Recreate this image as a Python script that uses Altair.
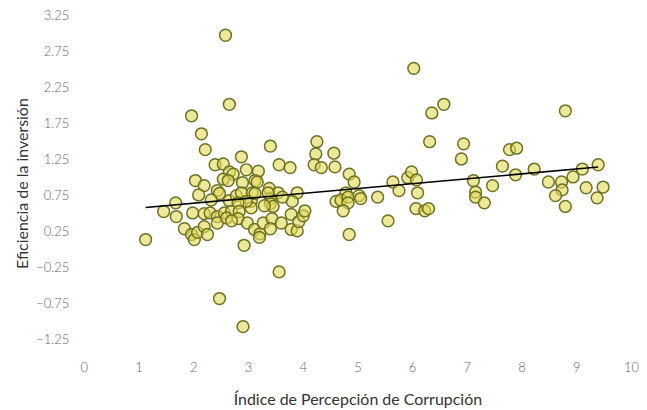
import altair as alt
import pandas as pd

# Índice de Percepción de Corrupción (x) and Eficiencia de la inversión (y)
ipc = [1.13, 1.46, 1.68, 1.69, 1.84, 1.97, 2.15, 2.22, 1.97, 2.02, 2.08, 2.20, 2.26, 1.99, 2.20, 2.31,
       2.04, 2.20, 2.10, 2.40, 2.55, 2.66, 2.73, 2.55, 2.64, 2.44, 2.48, 2.33, 2.66, 2.79, 2.44, 2.57,
       2.70, 2.44, 2.61, 2.66, 2.59, 2.88, 2.48, 2.91, 2.97, 3.19, 2.90, 3.13, 3.17, 3.39, 3.41, 3.57,
       3.77, 3.55, 3.90, 3.81, 3.63, 3.41, 3.41, 3.46, 3.30, 3.06, 3.06, 2.88, 2.97, 2.82, 2.84, 2.82,
       2.99, 3.12, 3.22, 3.21, 3.28, 3.44, 3.41, 3.61, 3.79, 3.79, 3.90, 3.93, 4.01, 4.04, 2.93, 3.57,
       3.08, 3.13, 3.37, 2.70, 4.26, 4.24, 4.57, 4.21, 4.34, 4.59, 4.85, 4.94, 4.79, 4.61, 4.70, 4.83,
       4.83, 4.74, 5.03, 5.06, 5.37, 5.56, 4.85, 5.65, 5.76, 5.92, 5.99, 6.08, 6.10, 6.07, 6.23, 6.30,
       6.32, 6.03, 6.36, 6.58, 6.94, 6.90, 7.65, 7.78, 7.91, 8.23, 7.89, 7.12, 7.47, 7.16, 7.16, 7.32,
       8.49, 8.73, 8.74, 8.62, 8.80, 8.80, 8.94, 9.11, 9.40, 9.18, 9.49, 9.38]
eficiencia = [0.14, 0.53, 0.65, 0.46, 0.29, 1.86, 1.61, 1.39, 0.21, 0.14, 0.24, 0.32, 0.21, 0.51, 0.50, 0.51,
              0.96, 0.89, 0.76, 1.18, 1.19, 1.08, 1.05, 0.98, 0.96, 0.82, 0.78, 0.69, 0.68, 0.75, 0.46, 0.51,
              0.53, 0.37, 0.44, 2.02, 2.98, 1.29, -0.68, -1.07, 1.11, 1.09, 0.93, 0.96, 0.94, 0.85, 1.44, 1.18,
              1.14, 0.79, 0.79, 0.67, 0.73, 0.71, 0.64, 0.60, 0.61, 0.67, 0.58, 0.79, 0.67, 0.65, 0.53, 0.43,
              0.37, 0.28, 0.22, 0.17, 0.37, 0.43, 0.29, 0.37, 0.49, 0.28, 0.26, 0.39, 0.47, 0.54, 0.06, -0.31,
              0.79, 0.78, 0.79, 0.40, 1.50, 1.33, 1.34, 1.18, 1.14, 1.15, 1.05, 0.94, 0.79, 0.67, 0.69, 0.73,
              0.65, 0.54, 0.75, 0.71, 0.73, 0.40, 0.21, 0.94, 0.82, 1.00, 1.08, 0.97, 0.79, 0.57, 0.54, 0.57,
              1.50, 2.52, 1.90, 2.02, 1.47, 1.26, 1.16, 1.39, 1.41, 1.12, 1.04, 0.96, 0.89, 0.80, 0.73, 0.65,
              0.94, 0.94, 0.83, 0.75, 0.60, 1.93, 1.01, 1.12, 1.18, 0.86, 0.87, 0.72]

x_ticks = [0, 1, 2, 3, 4, 5, 6, 7, 8, 9, 10]
y_ticks = [-1.25, -0.75, -0.25, 0.25, 0.75, 1.25, 1.75, 2.25, 2.75, 3.25]
fit_extent = [1.13, 9.40]

df = pd.DataFrame({"ipc": ipc, "eficiencia": eficiencia})

FONT = "Lato"
x_enc = alt.X("ipc:Q",
              scale=alt.Scale(domain=[0, 10], nice=False, zero=False),
              axis=alt.Axis(values=x_ticks, title="Índice de Percepción de Corrupción",
                            grid=False, domain=False, ticks=False, tickSize=0,
                            labelPadding=4, titlePadding=17, format="d",
                            labelOverlap=False, labelFlush=False))
y_enc = alt.Y("eficiencia:Q",
              scale=alt.Scale(domain=[-1.5, 3.35], nice=False, zero=False),
              axis=alt.Axis(values=y_ticks, title="Eficiencia de la inversión",
                            grid=False, domain=False, ticks=False, tickSize=0,
                            labelPadding=15, titlePadding=5, format=".2f",
                            labelOverlap=False, labelFlush=False))

points = alt.Chart(df).mark_circle(
    size=140, color="#e3d957", fillOpacity=0.6, stroke="#6b7322",
    strokeWidth=1.5, strokeOpacity=1, opacity=1
).encode(x=x_enc, y=y_enc)

line = alt.Chart(df).transform_regression(
    "ipc", "eficiencia", extent=fit_extent
).mark_line(color="black", strokeWidth=1.6).encode(x=x_enc, y=y_enc)

chart = alt.layer(points, line).properties(
    width=549, height=350,
    padding={"left": 6, "top": 0, "right": 0, "bottom": 0}
).configure_view(stroke=None).configure_axis(
    labelFont=FONT, titleFont=FONT, labelFontSize=13, titleFontSize=16,
    labelColor="#666666", titleColor="#333333", titleFontWeight="normal",
    labelFontWeight=300, labelOverlap=False
)

chart.save("out.html", embed_options={"renderer": "svg", "actions": False})
